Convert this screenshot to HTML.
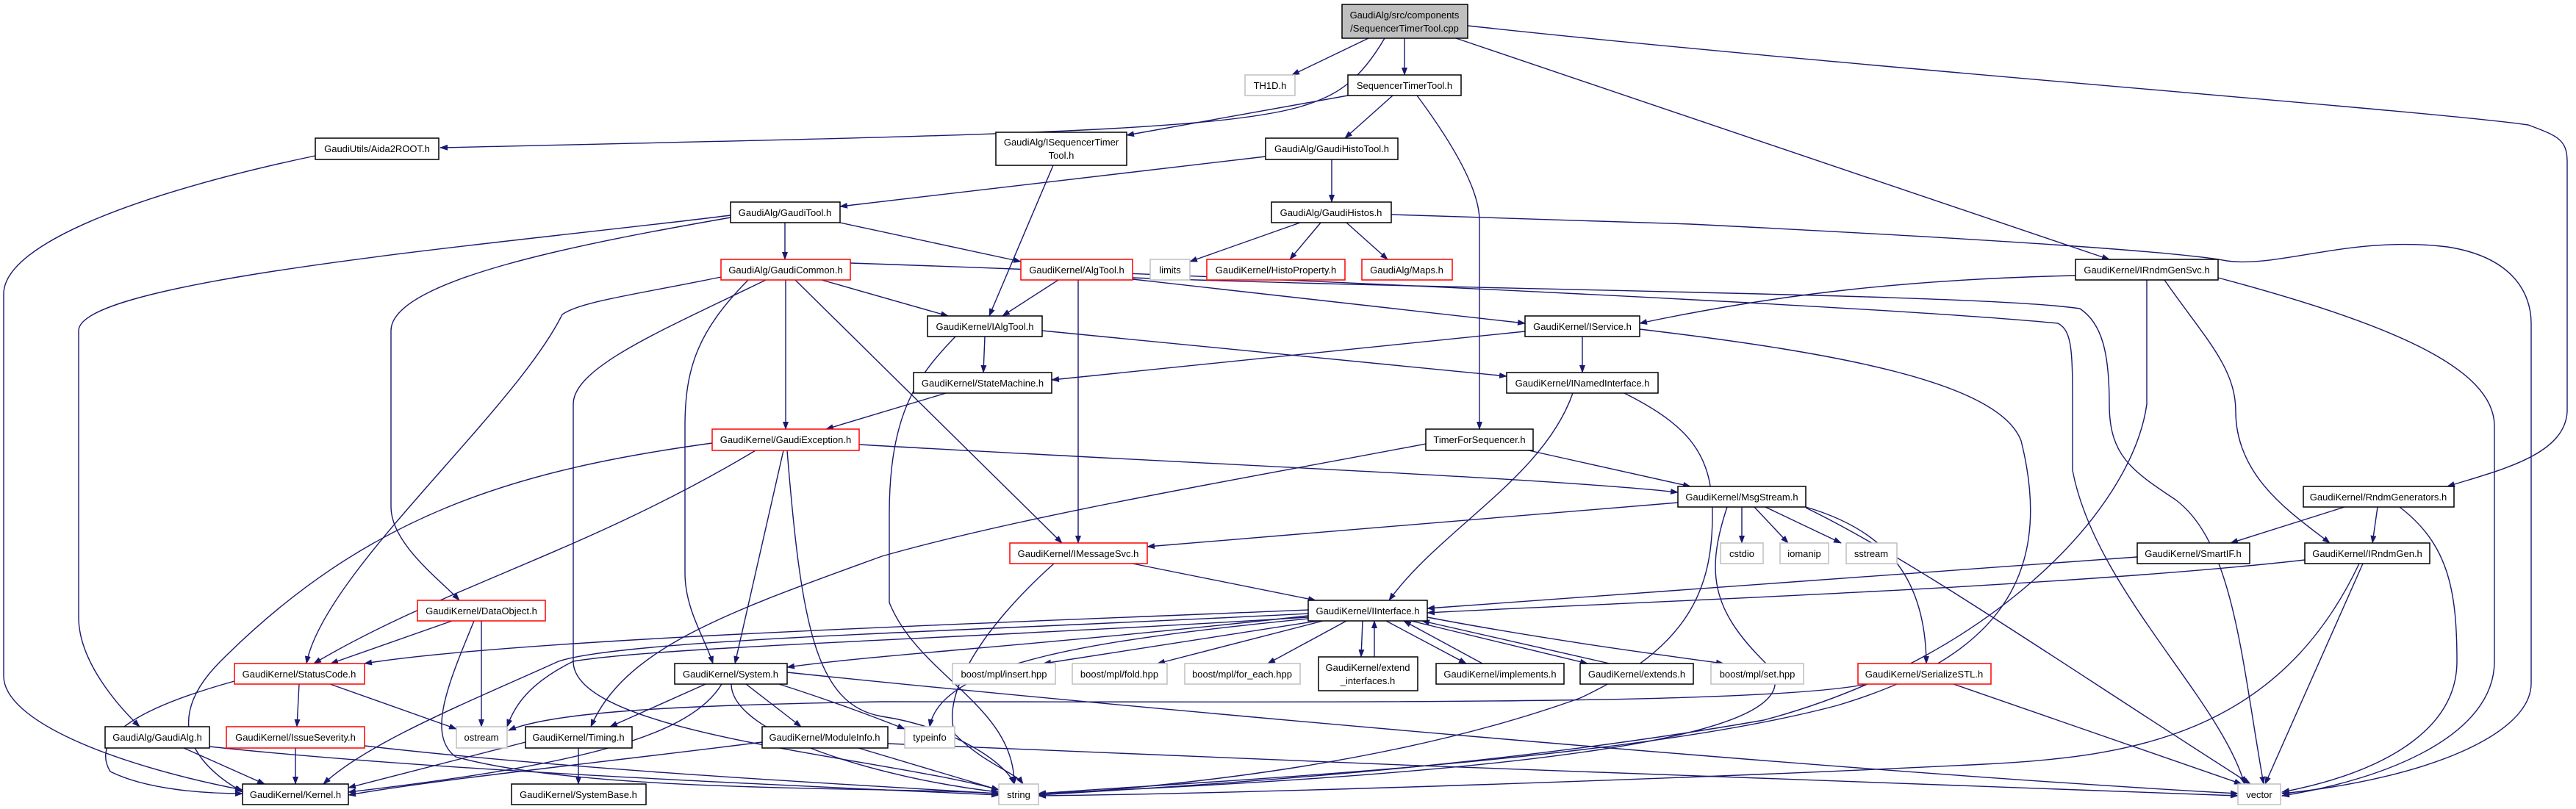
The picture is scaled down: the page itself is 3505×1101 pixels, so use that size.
<!DOCTYPE html>
<html><head><meta charset="utf-8"><style>
html,body{margin:0;padding:0;background:#fff;}
svg{display:block;}
text{font-family:"Liberation Sans",Arial,sans-serif;font-size:13px;text-anchor:middle;fill:#000;}
.e{fill:none;stroke:#191970;stroke-width:1.4;marker-end:url(#a);}
.n{fill:#fff;stroke:#000;stroke-width:1.5;}
.r{fill:#fff;stroke:#ff0000;stroke-width:1.5;}
.g{fill:#fff;stroke:#bfbfbf;stroke-width:1.5;}
</style></head><body>
<svg width="3505" height="1101" viewBox="0 0 3505 1101" xmlns="http://www.w3.org/2000/svg">
<defs><marker id="a" markerUnits="userSpaceOnUse" markerWidth="11" markerHeight="8" refX="10" refY="4" orient="auto"><path d="M0,0 L11,4 L0,8 z" fill="#191970"/></marker></defs>
<g>
<path class="e" d="M1884 52 C1850 110,1820 130,1770 145 C1650 180,1300 185,599 201"/>
<path class="e" d="M1862 52 L1758 102"/>
<path class="e" d="M1911 52 L1911 102"/>
<path class="e" d="M1981 52 L2870 353"/>
<path class="e" d="M1997 35 C2500 90,3300 150,3440 170 C3480 185,3493 190,3493 220 L3493 560 C3490 620,3400 640,3330 662"/>
<path class="e" d="M1834 130 L1533 184"/>
<path class="e" d="M1895 130 L1830 188"/>
<path class="e" d="M1928 130 C1980 200,2013 260,2013 300 L2013 584"/>
<path class="e" d="M1433 225 L1346 430"/>
<path class="e" d="M1722 213 L1143 281"/>
<path class="e" d="M1812 217 L1812 275"/>
<path class="e" d="M1769 303 L1619 356"/>
<path class="e" d="M1797 303 L1755 353"/>
<path class="e" d="M1832 303 L1888 353"/>
<path class="e" d="M1893 292 L2300 305 C2600 320,2950 340,3030 355 C3100 365,3200 320,3330 336 C3420 350,3444 400,3444 440 L3444 930 C3444 1000,3300 1060,3105 1080"/>
<path class="e" d="M1068 303 L1068 353"/>
<path class="e" d="M1143 303 L1389 356"/>
<path class="e" d="M994 293 C700 330,107 380,107 450 L107 840 C107 900,160 960,190 989"/>
<path class="e" d="M994 296 C800 330,532 380,532 450 L532 690 C532 740,600 790,625 817"/>
<path class="e" d="M429 212 C200 260,5 330,5 400 L5 920 C5 980,150 1040,330 1075"/>
<path class="e" d="M1069 381 L1069 584"/>
<path class="e" d="M1118 381 L1290 430"/>
<path class="e" d="M1082 381 L1445 739"/>
<path class="e" d="M981 377 C870 400,790 410,765 428 C700 560,440 780,417 903"/>
<path class="e" d="M1042 381 C900 450,780 500,780 550 L780 900 C780 1000,1200 1030,1359 1075"/>
<path class="e" d="M1018 381 C950 450,932 500,932 580 L932 780 C932 830,960 870,970 903"/>
<path class="e" d="M1157 358 C1800 380,2600 420,2800 440 C2820 450,2820 480,2820 560 L2820 640 C2850 800,3020 950,3054 1067"/>
<path class="e" d="M1440 381 L1364 430"/>
<path class="e" d="M1541 380 L2075 440"/>
<path class="e" d="M1467 381 L1467 739"/>
<path class="e" d="M1541 378 C2000 395,2700 400,2830 420 C2860 440,2870 480,2870 550 C2870 620,2900 640,2960 680 C3040 740,3050 900,3080 1067"/>
<path class="e" d="M1340 458 L1338 507"/>
<path class="e" d="M1418 450 L2050 512"/>
<path class="e" d="M1300 458 C1250 510,1210 560,1210 700 L1210 820 C1250 920,1380 960,1380 1067"/>
<path class="e" d="M2153 458 L2153 507"/>
<path class="e" d="M2075 451 L1431 517"/>
<path class="e" d="M2231 448 C2500 480,2720 520,2750 600 C2800 800,2700 900,2500 960 C2200 1040,1600 1065,1413 1080"/>
<path class="e" d="M2824 375 C2600 380,2420 400,2231 440"/>
<path class="e" d="M2921 381 L2921 550 C2900 700,2700 900,2400 980 C2000 1050,1600 1070,1413 1082"/>
<path class="e" d="M2945 381 C3000 460,3042 500,3042 560 C3042 650,3120 700,3170 739"/>
<path class="e" d="M3018 378 C3250 440,3394 500,3394 580 L3394 900 C3394 1000,3250 1060,3105 1083"/>
<path class="e" d="M1287 535 L1124 584"/>
<path class="e" d="M2140 535 C2100 650,1960 720,1890 817"/>
<path class="e" d="M2210 535 C2300 580,2330 620,2330 700 C2330 800,2300 880,2150 950 C1900 1040,1600 1070,1413 1082"/>
<path class="e" d="M969 603 C700 640,500 700,300 900 C200 1000,300 1060,330 1078"/>
<path class="e" d="M1028 613 C800 750,600 800,427 903"/>
<path class="e" d="M1066 613 L1000 903"/>
<path class="e" d="M1071 613 C1090 850,1110 960,1200 975 C1300 990,1370 1040,1380 1067"/>
<path class="e" d="M1169 605 C1600 630,2100 650,2283 670"/>
<path class="e" d="M2080 613 L2300 662"/>
<path class="e" d="M1940 604 C1700 650,1400 700,1200 757 C1000 830,850 880,804 989"/>
<path class="e" d="M2283 684 L1561 744"/>
<path class="e" d="M2370 690 L2370 739"/>
<path class="e" d="M2387 690 L2433 739"/>
<path class="e" d="M2402 690 L2505 739"/>
<path class="e" d="M2457 690 C2560 720,2620 780,2621 903"/>
<path class="e" d="M2457 691 C2600 760,2800 900,3062 1067"/>
<path class="e" d="M2350 690 C2320 780,2330 830,2400 900 C2500 1000,2100 1050,1413 1080"/>
<path class="e" d="M3190 690 L3035 739"/>
<path class="e" d="M3235 690 L3228 739"/>
<path class="e" d="M3265 690 C3330 740,3343 800,3343 900 C3343 990,3250 1050,3105 1078"/>
<path class="e" d="M1541 767 L1790 817"/>
<path class="e" d="M1434 767 C1330 860,1280 950,1300 1000 C1340 1040,1380 1050,1392 1067"/>
<path class="e" d="M2908 758 L1942 828"/>
<path class="e" d="M3136 762 C2800 800,2200 820,1942 834"/>
<path class="e" d="M3215 767 L3082 1067"/>
<path class="e" d="M3210 767 C3100 1000,2900 1030,2700 1040 C2300 1060,1700 1080,1413 1083"/>
<path class="e" d="M615 845 L450 903"/>
<path class="e" d="M655 845 L655 989"/>
<path class="e" d="M645 845 C610 930,580 1000,620 1030 C800 1080,1200 1070,1359 1080"/>
<path class="e" d="M1780 830 C1300 850,700 870,496 903"/>
<path class="e" d="M1780 835 C1300 860,850 870,760 900 C650 950,500 1010,440 1067"/>
<path class="e" d="M1780 838 C1400 880,1200 890,1071 908"/>
<path class="e" d="M1780 840 C1300 870,900 880,780 900 C720 930,700 960,690 989"/>
<path class="e" d="M1780 842 C1500 870,1280 900,1265 989"/>
<path class="e" d="M1793 845 L1420 903"/>
<path class="e" d="M1800 845 L1575 903"/>
<path class="e" d="M1832 845 L1725 903"/>
<path class="e" d="M1854 845 L1852 894"/>
<path class="e" d="M1870 894 L1870 845"/>
<path class="e" d="M1886 845 L1995 903"/>
<path class="e" d="M2017 903 L1910 845"/>
<path class="e" d="M1920 845 L2160 903"/>
<path class="e" d="M2190 903 L1935 845"/>
<path class="e" d="M1942 840 C2100 870,2250 890,2345 903"/>
<path class="e" d="M2540 931 C2400 960,1800 955,1200 955 C900 960,750 970,692 994"/>
<path class="e" d="M2658 931 L3050 1067"/>
<path class="e" d="M319 927 C200 960,120 1000,150 1050 C200 1075,280 1080,330 1080"/>
<path class="e" d="M407 931 L404 989"/>
<path class="e" d="M449 931 L621 992"/>
<path class="e" d="M960 931 L830 989"/>
<path class="e" d="M1015 931 L1090 989"/>
<path class="e" d="M982 931 C940 1000,800 1040,474 1078"/>
<path class="e" d="M995 931 C995 1000,1200 1060,1359 1078"/>
<path class="e" d="M1060 931 C1150 960,1200 980,1231 992"/>
<path class="e" d="M1071 915 C1500 960,2500 1050,3045 1080"/>
<path class="e" d="M402 1018 L402 1067"/>
<path class="e" d="M496 1015 C800 1050,1200 1070,1359 1080"/>
<path class="e" d="M250 1018 L360 1067"/>
<path class="e" d="M285 1016 C600 1050,1100 1070,1359 1082"/>
<path class="e" d="M715 1010 L474 1072"/>
<path class="e" d="M787 1018 L787 1067"/>
<path class="e" d="M1037 1010 C800 1040,600 1060,474 1082"/>
<path class="e" d="M1168 1018 L1359 1075"/>
<path class="e" d="M1208 1012 C1800 1040,2600 1065,3045 1083"/>
</g>
<g>
<rect x="1826" y="6" width="171" height="46" fill="#bfbfbf" stroke="#000" stroke-width="1.5"/>
<text x="1911" y="25">GaudiAlg/src/components</text><text x="1911" y="43">/SequencerTimerTool.cpp</text>
<rect class="g" x="1694" y="102" width="68" height="28"/><text x="1728" y="121" fill="#000">TH1D.h</text>
<rect class="n" x="1834" y="102" width="154" height="28"/><text x="1911" y="121">SequencerTimerTool.h</text>
<rect class="n" x="429" y="188" width="168" height="29"/><text x="513" y="207">GaudiUtils/Aida2ROOT.h</text>
<rect class="n" x="1355" y="180" width="178" height="45"/><text x="1444" y="198">GaudiAlg/ISequencerTimer</text><text x="1444" y="216">Tool.h</text>
<rect class="n" x="1722" y="188" width="180" height="29"/><text x="1812" y="207">GaudiAlg/GaudiHistoTool.h</text>
<rect class="n" x="994" y="275" width="149" height="28"/><text x="1068" y="294">GaudiAlg/GaudiTool.h</text>
<rect class="n" x="1730" y="275" width="163" height="28"/><text x="1811" y="294">GaudiAlg/GaudiHistos.h</text>
<rect class="r" x="981" y="353" width="176" height="28"/><text x="1069" y="372">GaudiAlg/GaudiCommon.h</text>
<rect class="r" x="1389" y="353" width="152" height="28"/><text x="1465" y="372">GaudiKernel/AlgTool.h</text>
<rect class="g" x="1565" y="353" width="54" height="28"/><text x="1592" y="372">limits</text>
<rect class="r" x="1642" y="353" width="188" height="28"/><text x="1736" y="372">GaudiKernel/HistoProperty.h</text>
<rect class="r" x="1853" y="353" width="123" height="28"/><text x="1914" y="372">GaudiAlg/Maps.h</text>
<rect class="n" x="2824" y="353" width="194" height="28"/><text x="2921" y="372">GaudiKernel/IRndmGenSvc.h</text>
<rect class="n" x="1262" y="430" width="156" height="28"/><text x="1340" y="449">GaudiKernel/IAlgTool.h</text>
<rect class="n" x="2075" y="430" width="156" height="28"/><text x="2153" y="449">GaudiKernel/IService.h</text>
<rect class="n" x="1243" y="507" width="188" height="28"/><text x="1337" y="526">GaudiKernel/StateMachine.h</text>
<rect class="n" x="2050" y="507" width="206" height="28"/><text x="2153" y="526">GaudiKernel/INamedInterface.h</text>
<rect class="r" x="969" y="584" width="200" height="29"/><text x="1069" y="603">GaudiKernel/GaudiException.h</text>
<rect class="n" x="1940" y="584" width="146" height="29"/><text x="2013" y="603">TimerForSequencer.h</text>
<rect class="n" x="2283" y="662" width="174" height="28"/><text x="2370" y="681">GaudiKernel/MsgStream.h</text>
<rect class="n" x="3134" y="662" width="205" height="28"/><text x="3236" y="681">GaudiKernel/RndmGenerators.h</text>
<rect class="r" x="1374" y="739" width="187" height="28"/><text x="1467" y="758">GaudiKernel/IMessageSvc.h</text>
<rect class="g" x="2341" y="739" width="58" height="28"/><text x="2370" y="758">cstdio</text>
<rect class="g" x="2422" y="739" width="66" height="28"/><text x="2455" y="758">iomanip</text>
<rect class="g" x="2512" y="739" width="69" height="28"/><text x="2546" y="758">sstream</text>
<rect class="n" x="2908" y="739" width="153" height="28"/><text x="2984" y="758">GaudiKernel/SmartIF.h</text>
<rect class="n" x="3136" y="739" width="170" height="28"/><text x="3221" y="758">GaudiKernel/IRndmGen.h</text>
<rect class="r" x="568" y="817" width="174" height="28"/><text x="655" y="836">GaudiKernel/DataObject.h</text>
<rect class="n" x="1780" y="817" width="162" height="28"/><text x="1861" y="836">GaudiKernel/IInterface.h</text>
<rect class="r" x="319" y="903" width="177" height="28"/><text x="407" y="922">GaudiKernel/StatusCode.h</text>
<rect class="n" x="918" y="903" width="153" height="28"/><text x="994" y="922">GaudiKernel/System.h</text>
<rect class="g" x="1296" y="903" width="140" height="28"/><text x="1366" y="922">boost/mpl/insert.hpp</text>
<rect class="g" x="1459" y="903" width="129" height="28"/><text x="1523" y="922">boost/mpl/fold.hpp</text>
<rect class="g" x="1612" y="903" width="157" height="28"/><text x="1690" y="922">boost/mpl/for_each.hpp</text>
<rect class="n" x="1794" y="894" width="135" height="46"/><text x="1861" y="913">GaudiKernel/extend</text><text x="1861" y="931">_interfaces.h</text>
<rect class="n" x="1954" y="903" width="174" height="28"/><text x="2041" y="922">GaudiKernel/implements.h</text>
<rect class="n" x="2150" y="903" width="154" height="28"/><text x="2227" y="922">GaudiKernel/extends.h</text>
<rect class="g" x="2328" y="903" width="126" height="28"/><text x="2391" y="922">boost/mpl/set.hpp</text>
<rect class="r" x="2528" y="903" width="181" height="28"/><text x="2618" y="922">GaudiKernel/SerializeSTL.h</text>
<rect class="n" x="143" y="989" width="142" height="29"/><text x="214" y="1008">GaudiAlg/GaudiAlg.h</text>
<rect class="r" x="308" y="989" width="188" height="29"/><text x="402" y="1008">GaudiKernel/IssueSeverity.h</text>
<rect class="g" x="621" y="989" width="69" height="29"/><text x="655" y="1008">ostream</text>
<rect class="n" x="715" y="989" width="145" height="29"/><text x="787" y="1008">GaudiKernel/Timing.h</text>
<rect class="n" x="1037" y="989" width="171" height="29"/><text x="1122" y="1008">GaudiKernel/ModuleInfo.h</text>
<rect class="g" x="1231" y="989" width="68" height="29"/><text x="1265" y="1008">typeinfo</text>
<rect class="n" x="330" y="1067" width="144" height="28"/><text x="402" y="1086">GaudiKernel/Kernel.h</text>
<rect class="n" x="696" y="1067" width="183" height="28"/><text x="787" y="1086">GaudiKernel/SystemBase.h</text>
<rect class="g" x="1359" y="1067" width="54" height="28"/><text x="1386" y="1086">string</text>
<rect class="g" x="3045" y="1067" width="58" height="28"/><text x="3074" y="1086">vector</text>
</g>
</svg>
</body></html>
